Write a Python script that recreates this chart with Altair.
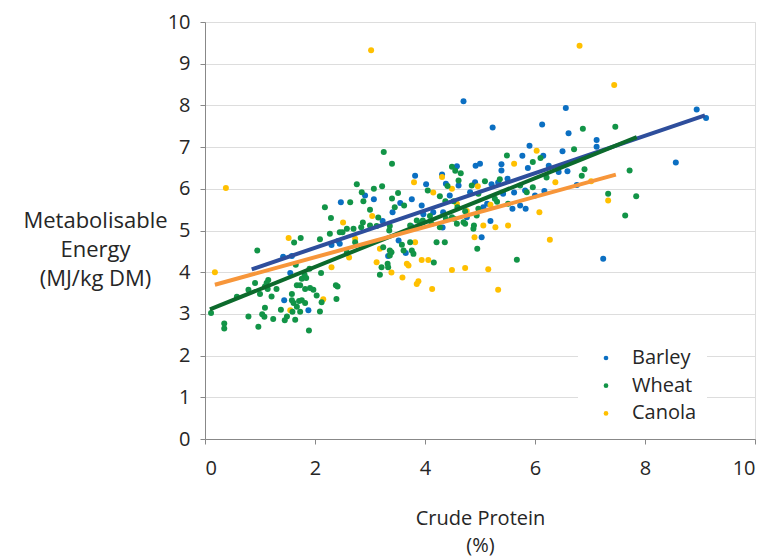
import altair as alt
import pandas as pd

crops = ["Barley", "Wheat", "Canola"]

barley_cp = [4.70, 2.47, 2.91, 3.07, 3.23, 3.41, 3.55, 3.76, 3.82, 4.02, 4.31, 4.38, 4.45, 4.58, 4.61, 4.91,
             4.92, 5.00, 4.82, 4.33, 3.97, 4.15, 3.94, 3.75, 6.56, 8.94, 9.11, 5.23, 6.13, 6.61, 7.12, 7.12,
             5.90, 6.50, 5.77, 6.15, 5.39, 5.39, 5.87, 6.25, 6.43, 6.59, 8.56, 6.76, 5.50, 5.21, 5.62, 6.17,
             5.59, 5.83, 5.73, 5.13, 5.06, 5.19, 5.33, 5.82, 5.42, 6.00, 5.03, 7.24, 1.42, 1.58, 1.55, 1.44,
             1.88, 2.30, 2.42, 2.45, 3.33, 3.52, 3.65, 4.32, 4.76]
barley_me = [8.10, 5.68, 5.84, 5.75, 5.23, 5.44, 5.66, 5.75, 6.31, 6.11, 6.34, 6.12, 5.84, 6.54, 6.08, 6.16,
             6.55, 6.60, 5.92, 5.44, 5.39, 5.44, 5.60, 5.10, 7.94, 7.90, 7.70, 7.47, 7.54, 7.33, 7.17, 7.01,
             7.03, 6.90, 6.79, 6.79, 6.59, 6.44, 6.50, 6.55, 6.40, 6.42, 6.63, 6.09, 6.24, 6.11, 5.91, 5.95,
             5.52, 5.52, 5.60, 5.64, 5.56, 5.23, 6.15, 5.96, 5.88, 5.84, 4.84, 4.32, 4.37, 4.39, 3.98, 3.33,
             3.09, 4.65, 4.75, 4.68, 4.39, 4.76, 4.46, 5.07, 5.32]

wheat_cp = [2.18, 2.29, 1.62, 1.74, 2.09, 2.27, 2.45, 0.95, 3.25, 3.40, 2.64, 2.76, 2.85, 2.88, 3.07, 3.22,
            3.40, 3.51, 3.00, 3.15, 2.87, 2.84, 3.45, 3.62, 4.05, 4.27, 4.41, 4.49, 4.55, 4.65, 4.61, 4.85,
            4.59, 4.53, 4.73, 4.70, 4.89, 4.27, 3.96, 4.09, 3.73,
            6.87, 7.46, 6.71, 5.49, 6.10, 5.96, 6.90, 6.85, 6.21, 7.72, 7.33, 7.84, 7.64, 5.36, 5.09, 5.73,
            5.96, 5.85, 5.31, 5.27, 4.97, 4.97, 5.51,
            4.37, 4.52, 2.50, 2.70, 3.00, 3.36, 3.35, 3.58, 3.73, 3.61, 3.36, 3.76, 4.21, 4.36, 3.85, 3.91,
            4.12, 4.38, 4.49, 4.58, 4.73, 4.94, 4.88, 4.95,
            2.11, 2.41, 0.91, 0.79, 1.00, 1.15, 1.12, 1.09, 1.14, 1.21, 1.30, 1.67, 1.73, 1.82, 1.97, 1.76,
            1.81, 1.58, 2.03, 1.58, 1.61, 1.71, 1.76, 1.82, 1.67, 1.38, 1.09, 1.59, 1.73, 2.12, 2.39, 2.09,
            0.11, 0.79, 1.04, 1.08, 1.24, 1.49, 1.45, 1.64, 0.35, 0.35, 0.97, 1.89,
            1.65, 1.90, 1.84, 0.58, 1.91, 2.38, 2.58, 2.58, 2.73, 3.12, 3.24, 3.21, 3.18, 3.32, 3.33, 3.36,
            3.39, 3.79, 4.16, 5.67]
wheat_me = [5.56, 5.30, 4.71, 4.82, 4.79, 4.92, 4.96, 4.52, 6.88, 6.60, 5.68, 6.11, 5.92, 5.70, 6.00, 6.06,
            5.77, 5.90, 5.50, 5.31, 5.19, 5.08, 5.56, 5.60, 5.96, 5.82, 6.07, 6.53, 6.43, 6.37, 6.20, 6.08,
            5.56, 5.28, 5.46, 5.20, 5.12, 5.08, 5.24, 5.35, 5.12,
            7.44, 7.49, 6.95, 6.80, 6.74, 6.64, 6.47, 6.31, 6.27, 6.44, 5.88, 5.82, 5.36, 6.23, 6.18, 6.08,
            6.04, 5.92, 5.69, 5.76, 5.52, 5.88, 5.64,
            5.70, 5.70, 4.96, 5.04, 5.12, 5.11, 5.00, 4.66, 4.72, 4.52, 4.52, 4.52, 4.72, 4.72, 5.24, 5.18,
            5.16, 5.28, 5.32, 5.16, 5.16, 5.36, 5.04, 4.56,
            3.98, 3.66, 3.74, 3.58, 3.48, 3.81, 3.74, 3.66, 3.60, 3.42, 3.60, 3.69, 3.69, 3.60, 3.58, 3.84,
            3.94, 3.48, 3.44, 3.33, 3.26, 3.31, 3.33, 3.26, 3.17, 3.10, 3.15, 3.05, 3.05, 3.28, 3.36, 3.06,
            3.02, 2.94, 2.99, 2.93, 2.88, 2.94, 2.85, 2.86, 2.77, 2.65, 2.69, 2.60,
            4.18, 4.08, 3.86, 3.41, 3.62, 3.69, 5.04, 4.47, 4.72, 5.11, 4.60, 4.12, 3.94, 4.20, 4.12, 4.40,
            4.48, 4.44, 4.23, 4.30]

canola_cp = [0.38, 2.51, 1.52, 3.02, 3.04, 3.80, 4.15, 4.31, 4.49, 4.96, 4.58, 4.76, 6.81, 7.44, 6.03, 5.62,
             6.37, 7.02, 7.33, 6.08, 5.19, 5.06, 5.28, 5.51, 3.18, 3.82, 4.90, 6.27, 0.18, 2.30, 1.55, 2.15,
             2.73, 2.62, 3.12, 3.39, 3.59, 3.67, 3.70, 3.85, 3.88, 3.94, 4.06, 4.13, 4.49, 4.73, 5.15, 5.33]
canola_me = [6.02, 5.19, 4.82, 9.32, 5.35, 6.16, 5.91, 6.28, 6.00, 6.06, 5.64, 5.47, 9.43, 8.49, 6.91, 6.60,
             6.16, 6.18, 5.72, 5.44, 5.62, 5.12, 5.08, 5.12, 4.56, 4.72, 4.84, 4.78, 4.00, 4.12, 3.09, 3.35,
             4.80, 4.35, 4.24, 3.99, 3.87, 4.20, 4.16, 3.72, 3.78, 4.29, 4.29, 3.60, 4.05, 4.10, 4.07, 3.58]

# Trend line end points
trend_x0 = [0.85, 0.09, 0.18]
trend_x1 = [9.09, 7.85, 7.47]
trend_y0 = [4.07, 3.11, 3.70]
trend_y1 = [7.76, 7.24, 6.34]

point_colors = ["#0B6FC2", "#129447", "#FFC000"]
line_colors = ["#2E4E9C", "#0C6A2C", "#F7963A"]

pts = pd.concat([
    pd.DataFrame({"cp": barley_cp, "me": barley_me, "crop": "Barley"}),
    pd.DataFrame({"cp": wheat_cp, "me": wheat_me, "crop": "Wheat"}),
    pd.DataFrame({"cp": canola_cp, "me": canola_me, "crop": "Canola"}),
], ignore_index=True)
trend = pd.DataFrame({"crop": crops, "x0": trend_x0, "x1": trend_x1, "y0": trend_y0, "y1": trend_y1})

FONT = "Open Sans"
TXT = "#262626"

xscale = alt.Scale(domain=[0, 10], nice=False)
yscale = alt.Scale(domain=[0, 10], nice=False)

points = alt.Chart(pts).mark_circle(size=36, opacity=1).encode(
    x=alt.X("cp:Q", scale=xscale, axis=alt.Axis(
        values=[0, 2, 4, 6, 8, 10], grid=False, title=["Crude Protein", "(%)"],
        titleY=69, titleBaseline="top", titleLineHeight=27, titleFontWeight="normal",
        titleFontSize=20, titleFont=FONT, titleColor=TXT,
        labelFont=FONT, labelFontSize=20, labelColor=TXT, labelPadding=14)),
    y=alt.Y("me:Q", scale=yscale, axis=alt.Axis(
        values=list(range(0, 11)), grid=True, title=["Metabolisable", "Energy", "(MJ/kg DM)"],
        titleAngle=0, titleAlign="center", titleBaseline="middle", titleX=-110, titleY=198,
        titleLineHeight=29, titleFontWeight="normal", titleFontSize=22, titleFont=FONT,
        titleColor=TXT, labelFont=FONT, labelFontSize=20, labelColor=TXT, labelPadding=10)),
    color=alt.Color("crop:N", scale=alt.Scale(domain=crops, range=point_colors), legend=alt.Legend(
        title=None, orient="none", legendX=373, legendY=316, symbolType="circle", symbolSize=22,
        labelFont=FONT, labelFontSize=20, labelColor=TXT, fillColor="white", padding=10,
        symbolOffset=8, labelOffset=16, rowPadding=7.7)),
    order=alt.Order("crop:N"),
)

lines = alt.Chart(trend).mark_rule(strokeWidth=4).encode(
    x=alt.X("x0:Q", scale=xscale),
    x2="x1:Q",
    y=alt.Y("y0:Q", scale=yscale),
    y2="y1:Q",
    color=alt.Color("crop:N", scale=alt.Scale(domain=crops, range=line_colors), legend=None),
)

chart = alt.layer(points, lines).resolve_scale(color="independent").properties(
    width=550, height=417,
    autosize=alt.AutoSizeParams(type="none"),
    padding={"left": 197, "top": 14, "right": 10, "bottom": 122},
).configure_view(stroke=None).configure_axis(
    domainColor="black", domainWidth=2, tickColor="black", tickWidth=1.5, tickSize=6,
    gridColor="#d9d9d9", gridWidth=1.5,
).configure(background="white")

chart.save("out.html", embed_options={"renderer": "svg", "actions": False})
